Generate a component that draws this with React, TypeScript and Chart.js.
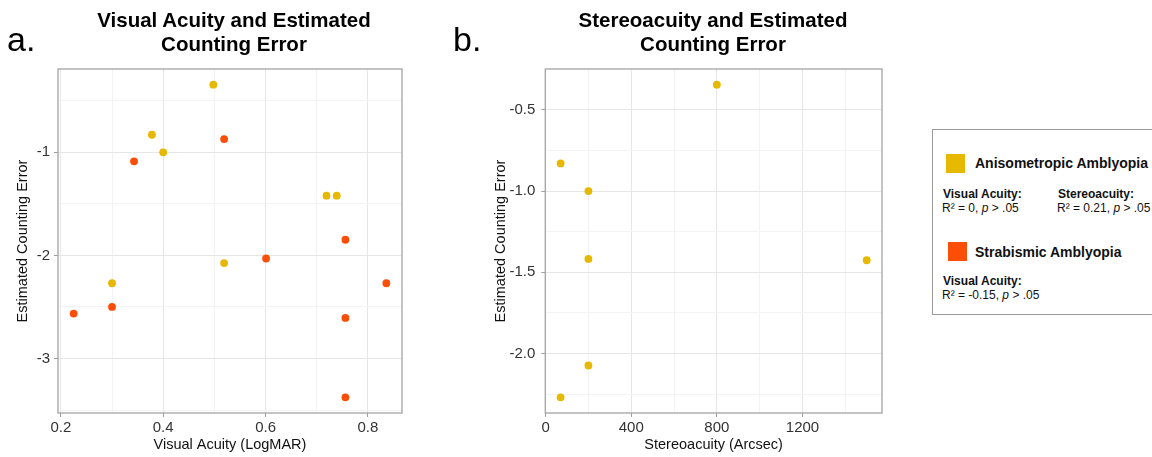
import React, { useEffect, useRef } from "react";
import { Chart, registerables } from "chart.js";

Chart.register(...registerables);

const FONT = "'Liberation Sans', Arial, Helvetica, sans-serif";
const ANISO_COLOR = "#E7B800";
const STRAB_COLOR = "#FC4E07";

// Panel a: Visual acuity (LogMAR) vs estimated counting error
const ANISO_VA_X = [0.498, 0.378, 0.4, 0.719, 0.739, 0.519, 0.3];
const ANISO_VA_Y = [-0.343, -0.829, -1.0, -1.42, -1.42, -2.074, -2.27];
const STRAB_VA_X = [0.343, 0.519, 0.756, 0.601, 0.836, 0.3, 0.225, 0.756, 0.756];
const STRAB_VA_Y = [-1.087, -0.871, -1.848, -2.03, -2.27, -2.5, -2.564, -2.606, -3.377];

// Panel b: Stereoacuity (arcsec) vs estimated counting error
const ANISO_STEREO_X = [800, 70, 200, 200, 1500, 200, 70];
const ANISO_STEREO_Y = [-0.345, -0.83, -1.0, -1.418, -1.426, -2.074, -2.27];

// Ticks
const A_X_TICKS = [0.2, 0.4, 0.6, 0.8];
const A_X_LABELS = ["0.2", "0.4", "0.6", "0.8"];
const A_X_MINOR = [0.3, 0.5, 0.7];
const A_Y_TICKS = [-3, -2, -1];
const A_Y_LABELS = ["-3", "-2", "-1"];
const A_Y_MINOR = [-3.5, -2.5, -1.5, -0.5];
const B_X_TICKS = [0, 400, 800, 1200];
const B_X_LABELS = ["0", "400", "800", "1200"];
const B_X_MINOR = [200, 600, 1000, 1400];
const B_Y_TICKS = [-2, -1.5, -1, -0.5];
const B_Y_LABELS = ["-2.0", "-1.5", "-1.0", "-0.5"];
const B_Y_MINOR = [-2.25, -1.75, -1.25, -0.75];

function expandRange(vals: number[]): [number, number] {
  const lo = Math.min(...vals);
  const hi = Math.max(...vals);
  const pad = (hi - lo) * 0.05;
  return [lo - pad, hi + pad];
}

const toPoints = (xs: number[], ys: number[]) => xs.map((x, i) => ({ x, y: ys[i] }));

const panelBorder = {
  id: "panelBorder",
  afterDatasetsDraw(chart: any) {
    const { ctx, chartArea } = chart;
    const { left, top, right, bottom } = chartArea;
    ctx.save();
    ctx.strokeStyle = "#A3A3A3";
    ctx.lineWidth = 1.3;
    ctx.strokeRect(left, top, right - left, bottom - top);
    ctx.restore();
  },
};

function makeAxis(
  pos: "left" | "bottom",
  major: number[],
  labels: string[],
  minor: number[],
  range: [number, number],
  title: string,
  fit: number,
  tickPad: number,
  tickLen: number,
  titlePad: any
) {
  const all = [...major, ...minor].sort((a, b) => a - b);
  const isMajor = (v: number) => major.some((m) => Math.abs(m - v) < 1e-9);
  return {
    type: "linear",
    position: pos,
    min: range[0],
    max: range[1],
    bounds: "data",
    afterBuildTicks: (s: any) => {
      s.ticks = all.map((v) => ({ value: v }));
    },
    afterFit: (s: any) => {
      if (pos === "left") s.width = fit;
      else s.height = fit;
    },
    ticks: {
      autoSkip: false,
      maxRotation: 0,
      padding: tickPad,
      color: "#333333",
      font: { size: 15, family: FONT },
      callback: (v: number) => {
        const i = major.findIndex((m) => Math.abs(m - v) < 1e-9);
        return i >= 0 ? labels[i] : "";
      },
    },
    grid: {
      drawTicks: true,
      tickLength: tickLen,
      lineWidth: 1,
      tickWidth: 1,
      color: (c: any) => (c.tick && isMajor(c.tick.value) ? "#E6E6E6" : "#F3F3F3"),
      tickColor: (c: any) => (c.tick && isMajor(c.tick.value) ? "#9E9E9E" : "rgba(0,0,0,0)"),
    },
    border: { display: false },
    title: {
      display: true,
      text: title,
      color: "#111111",
      font: { size: 14.5, family: FONT },
      padding: titlePad,
    },
  };
}

type PanelProps = {
  left: number;
  width: number;
  padLeft: number;
  padRight: number;
  datasets: any[];
  xAxis: any;
  yAxis: any;
};

function Panel({ left, width, padLeft, padRight, datasets, xAxis, yAxis }: PanelProps) {
  const ref = useRef<HTMLCanvasElement>(null);
  useEffect(() => {
    const chart = new Chart(ref.current as HTMLCanvasElement, {
      type: "scatter",
      data: { datasets },
      options: {
        responsive: false,
        animation: false,
        devicePixelRatio: 1,
        layout: { padding: { top: 69, left: padLeft, right: padRight, bottom: 0 } },
        plugins: {
          legend: { display: false },
          tooltip: { enabled: false },
          title: { display: false },
        },
        scales: { x: xAxis, y: yAxis },
      } as any,
      plugins: [panelBorder],
    });
    return () => chart.destroy();
  }, []);
  return (
    <canvas
      ref={ref}
      width={width}
      height={457}
      style={{ position: "absolute", left, top: 0, width, height: 457 }}
    />
  );
}

const pointStyle = (color: string) => ({
  backgroundColor: color,
  borderColor: color,
  pointRadius: 3.9,
  pointHoverRadius: 3.9,
  pointBorderWidth: 0,
});

const titleStyle: React.CSSProperties = {
  position: "absolute",
  top: 8,
  width: 400,
  textAlign: "center",
  fontWeight: "bold",
  fontSize: 20.5,
  lineHeight: "24px",
  color: "#000",
  whiteSpace: "nowrap",
};

const letterStyle: React.CSSProperties = {
  position: "absolute",
  top: 19,
  fontSize: 34,
  lineHeight: "40px",
  color: "#000",
};

const abs = (left: number, top: number, extra: React.CSSProperties = {}): React.CSSProperties => ({
  position: "absolute",
  left,
  top,
  whiteSpace: "nowrap",
  color: "#111",
  ...extra,
});

export default function App() {
  const aX = expandRange([...ANISO_VA_X, ...STRAB_VA_X]);
  const aY = expandRange([...ANISO_VA_Y, ...STRAB_VA_Y]);
  const bX = expandRange(ANISO_STEREO_X);
  const bY = expandRange(ANISO_STEREO_Y);

  const dsA = [
    { label: "Anisometropic Amblyopia", data: toPoints(ANISO_VA_X, ANISO_VA_Y), ...pointStyle(ANISO_COLOR) },
    { label: "Strabismic Amblyopia", data: toPoints(STRAB_VA_X, STRAB_VA_Y), ...pointStyle(STRAB_COLOR) },
  ];
  const dsB = [
    { label: "Anisometropic Amblyopia", data: toPoints(ANISO_STEREO_X, ANISO_STEREO_Y), ...pointStyle(ANISO_COLOR) },
  ];

  const xA = makeAxis("bottom", A_X_TICKS, A_X_LABELS, A_X_MINOR, aX, "Visual Acuity (LogMAR)", 44, 1.5, 4, { top: 0, bottom: 3 });
  const yA = makeAxis("left", A_Y_TICKS, A_Y_LABELS, A_Y_MINOR, aY, "Estimated Counting Error", 58, 4, 4, { top: 14, bottom: 0 });
  const xB = makeAxis("bottom", B_X_TICKS, B_X_LABELS, B_X_MINOR, bX, "Stereoacuity (Arcsec)", 44, 1.5, 4, { top: 0, bottom: 3 });
  const yB = makeAxis("left", B_Y_TICKS, B_Y_LABELS, B_Y_MINOR, bY, "Estimated Counting Error", 65.3, 6, 4, { top: 12.6, bottom: 0 });

  const small: React.CSSProperties = { fontSize: 12, lineHeight: "14px" };

  return (
    <div
      style={{
        position: "absolute",
        left: 0,
        top: 0,
        width: 1152,
        height: 457,
        overflow: "hidden",
        background: "#fff",
        fontFamily: FONT,
      }}
    >
      <Panel left={0} width={468} padLeft={0} padRight={66} datasets={dsA} xAxis={xA} yAxis={yA} />
      <Panel left={460} width={506} padLeft={20} padRight={84} datasets={dsB} xAxis={xB} yAxis={yB} />

      <div style={{ ...titleStyle, left: 234 - 200 }}>
        Visual Acuity and Estimated
        <br />
        Counting Error
      </div>
      <div style={{ ...titleStyle, left: 713 - 200 }}>
        Stereoacuity and Estimated
        <br />
        Counting Error
      </div>
      <div style={{ ...letterStyle, left: 7 }}>a.</div>
      <div style={{ ...letterStyle, left: 453 }}>b.</div>

      <div
        style={{
          position: "absolute",
          left: 932,
          top: 129,
          width: 240,
          height: 186,
          border: "1px solid #9A9A9A",
          boxSizing: "border-box",
          background: "#fff",
        }}
      />
      <div style={abs(946, 154, { width: 19, height: 19, background: ANISO_COLOR })} />
      <div style={abs(975, 155, { fontSize: 14, lineHeight: "16px", fontWeight: "bold" })}>Anisometropic Amblyopia</div>
      <div style={abs(943, 187, { ...small, fontWeight: "bold" })}>Visual Acuity:</div>
      <div style={abs(942, 201, small)}>
        R² = 0, <i>p</i> &gt; .05
      </div>
      <div style={abs(1058, 187, { ...small, fontWeight: "bold" })}>Stereoacuity:</div>
      <div style={abs(1057, 201, small)}>
        R² = 0.21, <i>p</i> &gt; .05
      </div>

      <div style={abs(948, 242, { width: 19, height: 19, background: STRAB_COLOR })} />
      <div style={abs(975, 244, { fontSize: 14, lineHeight: "16px", fontWeight: "bold" })}>Strabismic Amblyopia</div>
      <div style={abs(943, 274, { ...small, fontWeight: "bold" })}>Visual Acuity:</div>
      <div style={abs(942, 288, small)}>
        R² = -0.15, <i>p</i> &gt; .05
      </div>
    </div>
  );
}
